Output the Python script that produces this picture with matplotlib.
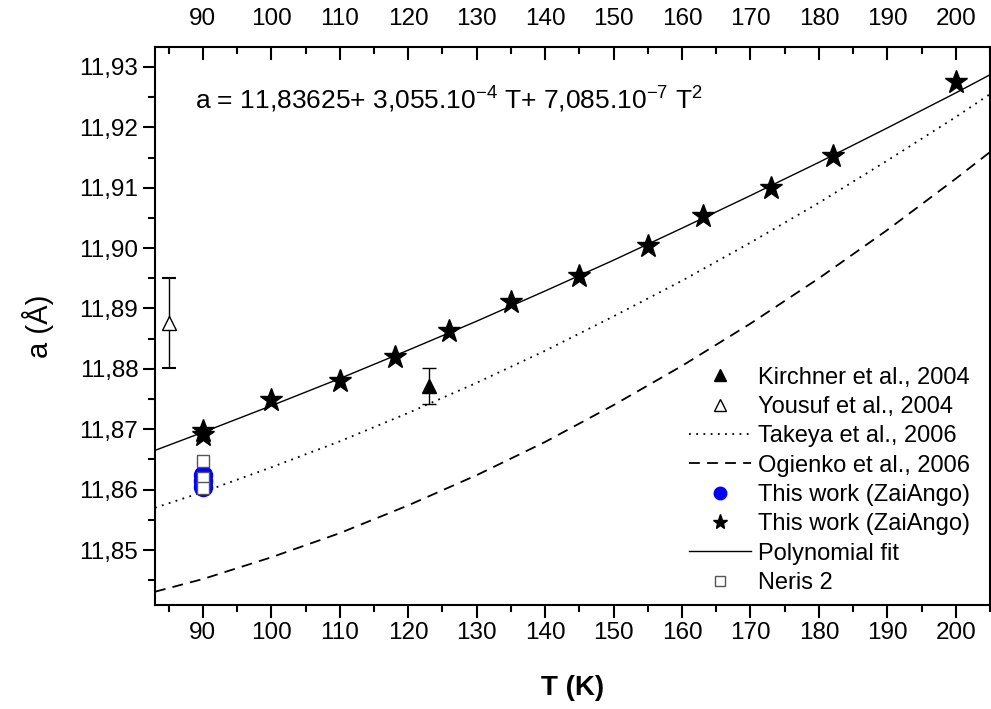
import numpy as np
import matplotlib
matplotlib.use("Agg")
import matplotlib.pyplot as plt
from matplotlib.lines import Line2D
from matplotlib.ticker import MultipleLocator, FuncFormatter

plt.rcParams['font.family'] = ['Liberation Sans', 'DejaVu Sans']
plt.rcParams['mathtext.fontset'] = 'custom'
plt.rcParams['mathtext.rm'] = 'Liberation Sans'
plt.rcParams['mathtext.it'] = 'Liberation Sans:italic'

# data
kirchner_T = [123]
kirchner_a = [11.8772]
kirchner_err = [0.0030]

yousuf_T = [85]
yousuf_a = [11.8876]
yousuf_err = [0.0074]

curve_T = [83, 90, 100, 110, 120, 130, 140, 150, 160, 170, 180, 190, 200, 205]
takeya_a = [11.8570, 11.8596, 11.8637, 11.8680, 11.8727, 11.8777, 11.8830,
            11.8887, 11.8946, 11.9009, 11.9075, 11.9145, 11.9217, 11.9255]
ogienko_a = [11.8431, 11.8452, 11.8488, 11.8528, 11.8574, 11.8624, 11.8679,
             11.8740, 11.8805, 11.8875, 11.8950, 11.9030, 11.9115, 11.9159]
fit_a = [11.8665, 11.8695, 11.8739, 11.8784, 11.8831, 11.8879, 11.8929,
         11.8980, 11.9033, 11.9087, 11.9142, 11.9199, 11.9257, 11.9287]

zai_T = [90, 90, 90]
zai_a = [11.8625, 11.8615, 11.8605]

star_T = [90, 90, 100, 110, 118, 126, 135, 145, 155, 163, 173, 182, 200]
star_a = [11.8697, 11.8690, 11.8748, 11.8780, 11.8819, 11.8862, 11.8910,
          11.8954, 11.9004, 11.9053, 11.9100, 11.9152, 11.9275]

neris_T = [90, 90, 90]
neris_a = [11.8648, 11.8620, 11.8603]

labels = ['Kirchner et al., 2004', 'Yousuf et al., 2004', 'Takeya et al., 2006',
          'Ogienko et al., 2006', 'This work (ZaiAngo)', 'This work (ZaiAngo)',
          'Polynomial fit', 'Neris 2']

fig = plt.figure(figsize=(9.91, 7.09), dpi=100)
ax = fig.add_axes([155/991, 1-605/709, 835/991, 558/709])

ax.errorbar(kirchner_T, kirchner_a, yerr=kirchner_err, fmt='^', color='black',
            ms=10, capsize=5, elinewidth=1, capthick=1, zorder=4)
ax.errorbar(yousuf_T, yousuf_a, yerr=yousuf_err, fmt='^', color='black', mfc='white',
            ms=10, capsize=5, elinewidth=1, capthick=1.5, zorder=4)
ax.plot(curve_T, takeya_a, color='black', lw=1.3, ls=(0, (1, 3)))
ax.plot(curve_T, ogienko_a, color='black', lw=1.3, ls=(0, (6, 4)))
ax.plot(zai_T, zai_a, 'o', color='#0000ff', ms=13, ls='none', zorder=5)
ax.plot(star_T, star_a, '*', color='black', ms=17, ls='none', zorder=5)
ax.plot(curve_T, fit_a, color='black', lw=1)
ax.plot(neris_T, neris_a, 's', mfc='white', mec='#555555', ms=8, mew=1, ls='none', zorder=6)

# legend handles (smaller markers than the plot)
handles = [
    Line2D([], [], marker='^', color='black', ls='none', ms=8),
    Line2D([], [], marker='^', color='black', mfc='white', ls='none', ms=8),
    Line2D([], [], color='black', lw=1.3, ls=(0, (1, 3))),
    Line2D([], [], color='black', lw=1.3, ls=(0, (6, 4))),
    Line2D([], [], marker='o', color='#0000ff', ls='none', ms=9),
    Line2D([], [], marker='*', color='black', ls='none', ms=11),
    Line2D([], [], color='black', lw=1),
    Line2D([], [], marker='s', mfc='white', mec='#555555', ls='none', ms=7),
]

ax.set_xlim(83, 205)
ax.set_ylim(11.8409, 11.9333)

ax.xaxis.set_major_locator(MultipleLocator(10))
ax.xaxis.set_minor_locator(MultipleLocator(5))
ax.yaxis.set_major_locator(MultipleLocator(0.01))
ax.yaxis.set_minor_locator(MultipleLocator(0.005))
ax.yaxis.set_major_formatter(FuncFormatter(lambda v, p: ('%.2f' % v).replace('.', ',')))
ax.xaxis.set_major_formatter(FuncFormatter(lambda v, p: '%d' % v))

ax.tick_params(axis='both', which='both', labelsize=17.5, width=1.5)
ax.tick_params(axis='x', which='major', direction='out', length=9, top=True,
               labeltop=True, bottom=True, labelbottom=True)
ax.tick_params(axis='x', which='minor', direction='out', length=5, top=True, bottom=True)
ax.tick_params(axis='y', which='major', direction='out', length=8.5, right=False)
ax.tick_params(axis='y', which='minor', direction='out', length=5, right=False)
for t in ax.xaxis.get_major_ticks() + ax.xaxis.get_minor_ticks():
    t.tick2line.set_marker(3)
for sp in ax.spines.values():
    sp.set_linewidth(1.5)

ax.set_xlabel('T (K)', fontsize=20, fontweight='bold', labelpad=22)
ax.set_ylabel('a (Å)', fontsize=21, labelpad=18)

ax.text(0.048, 0.905, r'a = 11,83625+ 3,055.10$^{-4}$ T+ 7,085.10$^{-7}$ T$^2$',
        transform=ax.transAxes, fontsize=19, va='center', ha='left')

ax.legend(handles, labels, loc='lower right', bbox_to_anchor=(1.0, -0.016), frameon=False,
          fontsize=17, handlelength=2.6, handletextpad=0.3, labelspacing=0.31,
          borderaxespad=0.45)

fig.savefig('out.png', dpi=100)
